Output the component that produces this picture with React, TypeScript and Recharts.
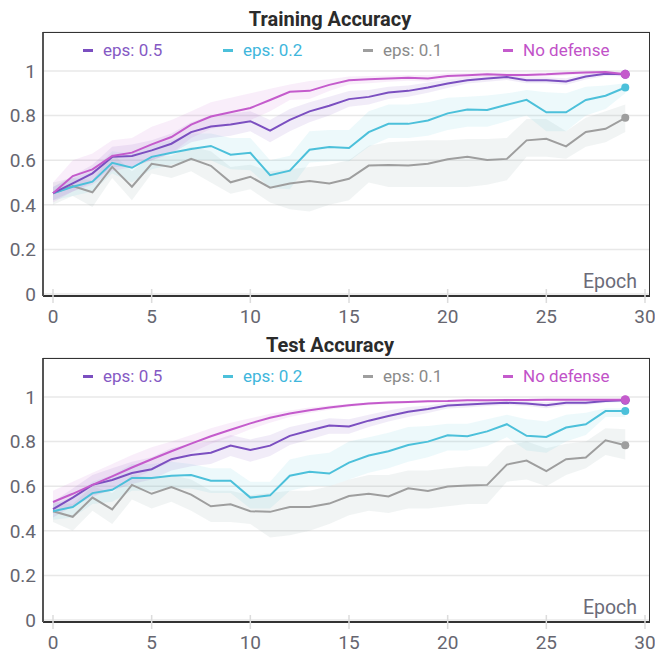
import React from 'react';
import { ComposedChart, Line, Area, XAxis, YAxis, CartesianGrid } from 'recharts';

// ---------- data ----------
const epochs = [0, 1, 2, 3, 4, 5, 6, 7, 8, 9, 10, 11, 12, 13, 14, 15, 16, 17, 18, 19, 20, 21, 22, 23, 24, 25, 26, 27, 28, 29];
const xTicks = [0, 5, 10, 15, 20, 25, 30];
const yTicks = [0, 0.2, 0.4, 0.6, 0.8, 1];

// Training accuracy
const trainE05 = [0.452, 0.496, 0.541, 0.615, 0.619, 0.644, 0.674, 0.726, 0.751, 0.76, 0.775, 0.733, 0.781, 0.819, 0.844, 0.874, 0.884, 0.904, 0.911, 0.926, 0.944, 0.959, 0.966, 0.973, 0.959, 0.959, 0.953, 0.975, 0.988, 0.985];
const trainE05Hi = [0.48, 0.53, 0.58, 0.66, 0.67, 0.69, 0.72, 0.77, 0.8, 0.81, 0.82, 0.78, 0.83, 0.86, 0.885, 0.91, 0.915, 0.93, 0.935, 0.948, 0.962, 0.972, 0.978, 0.984, 0.972, 0.972, 0.968, 0.988, 0.996, 0.994];
const trainE05Lo = [0.42, 0.46, 0.5, 0.57, 0.57, 0.6, 0.63, 0.68, 0.7, 0.71, 0.73, 0.68, 0.73, 0.77, 0.8, 0.84, 0.85, 0.875, 0.885, 0.902, 0.924, 0.944, 0.952, 0.96, 0.945, 0.945, 0.938, 0.962, 0.978, 0.975];

const trainE02 = [0.452, 0.481, 0.504, 0.588, 0.566, 0.615, 0.633, 0.65, 0.664, 0.625, 0.633, 0.533, 0.553, 0.647, 0.659, 0.655, 0.726, 0.763, 0.763, 0.778, 0.81, 0.827, 0.825, 0.849, 0.871, 0.815, 0.815, 0.87, 0.889, 0.926];
const trainE02Hi = [0.48, 0.52, 0.55, 0.64, 0.63, 0.67, 0.69, 0.72, 0.72, 0.7, 0.7, 0.6, 0.62, 0.73, 0.735, 0.735, 0.82, 0.85, 0.85, 0.86, 0.88, 0.885, 0.89, 0.9, 0.915, 0.905, 0.9, 0.93, 0.935, 0.945];
const trainE02Lo = [0.42, 0.44, 0.46, 0.54, 0.5, 0.56, 0.58, 0.6, 0.6, 0.56, 0.555, 0.475, 0.47, 0.59, 0.595, 0.595, 0.66, 0.7, 0.7, 0.71, 0.735, 0.75, 0.75, 0.775, 0.8, 0.73, 0.73, 0.8, 0.83, 0.9];

const trainE01 = [0.452, 0.484, 0.456, 0.57, 0.481, 0.584, 0.57, 0.606, 0.575, 0.501, 0.526, 0.477, 0.496, 0.507, 0.496, 0.517, 0.576, 0.579, 0.576, 0.584, 0.604, 0.615, 0.601, 0.606, 0.689, 0.696, 0.662, 0.727, 0.741, 0.79];
const trainE01Hi = [0.5, 0.52, 0.51, 0.63, 0.55, 0.62, 0.62, 0.66, 0.64, 0.57, 0.58, 0.55, 0.56, 0.57, 0.58, 0.6, 0.665, 0.68, 0.685, 0.69, 0.69, 0.695, 0.695, 0.7, 0.785, 0.785, 0.73, 0.79, 0.82, 0.85];
const trainE01Lo = [0.4, 0.44, 0.39, 0.52, 0.42, 0.54, 0.52, 0.55, 0.5, 0.45, 0.47, 0.41, 0.38, 0.37, 0.4, 0.42, 0.5, 0.48, 0.48, 0.48, 0.48, 0.48, 0.49, 0.51, 0.615, 0.615, 0.607, 0.66, 0.68, 0.726];

const trainND = [0.452, 0.529, 0.559, 0.619, 0.634, 0.671, 0.704, 0.76, 0.796, 0.815, 0.834, 0.87, 0.907, 0.911, 0.938, 0.959, 0.963, 0.967, 0.97, 0.967, 0.978, 0.981, 0.985, 0.982, 0.982, 0.985, 0.99, 0.993, 0.996, 0.985];
const trainNDHi = [0.5, 0.6, 0.63, 0.69, 0.7, 0.75, 0.78, 0.82, 0.86, 0.88, 0.9, 0.92, 0.94, 0.955, 0.963, 0.975, 0.978, 0.98, 0.982, 0.982, 0.99, 0.992, 0.995, 0.993, 0.993, 0.995, 0.998, 1.0, 1.0, 0.995];
const trainNDLo = [0.41, 0.46, 0.49, 0.55, 0.57, 0.6, 0.63, 0.7, 0.74, 0.76, 0.78, 0.82, 0.87, 0.875, 0.91, 0.94, 0.945, 0.952, 0.956, 0.952, 0.965, 0.97, 0.975, 0.972, 0.972, 0.975, 0.98, 0.985, 0.99, 0.975];

// Test accuracy
const testE05 = [0.497, 0.549, 0.606, 0.628, 0.659, 0.676, 0.721, 0.74, 0.75, 0.782, 0.762, 0.782, 0.826, 0.85, 0.872, 0.868, 0.894, 0.915, 0.934, 0.946, 0.962, 0.966, 0.971, 0.974, 0.971, 0.963, 0.974, 0.974, 0.982, 0.985];
const testE05Hi = [0.53, 0.59, 0.65, 0.68, 0.71, 0.73, 0.77, 0.79, 0.8, 0.83, 0.81, 0.83, 0.865, 0.885, 0.905, 0.9, 0.92, 0.94, 0.955, 0.962, 0.975, 0.978, 0.981, 0.983, 0.982, 0.976, 0.984, 0.984, 0.99, 0.992];
const testE05Lo = [0.46, 0.51, 0.56, 0.58, 0.61, 0.63, 0.67, 0.69, 0.7, 0.735, 0.71, 0.735, 0.785, 0.81, 0.835, 0.835, 0.865, 0.89, 0.91, 0.928, 0.948, 0.953, 0.96, 0.964, 0.96, 0.95, 0.963, 0.964, 0.974, 0.978];

const testE02 = [0.488, 0.507, 0.569, 0.584, 0.637, 0.637, 0.647, 0.65, 0.625, 0.625, 0.549, 0.559, 0.647, 0.665, 0.657, 0.706, 0.738, 0.757, 0.785, 0.8, 0.828, 0.824, 0.846, 0.878, 0.826, 0.821, 0.863, 0.878, 0.937, 0.937];
const testE02Hi = [0.52, 0.55, 0.62, 0.65, 0.7, 0.7, 0.71, 0.7, 0.68, 0.68, 0.62, 0.62, 0.72, 0.74, 0.75, 0.8, 0.82, 0.84, 0.865, 0.87, 0.88, 0.88, 0.9, 0.92, 0.9, 0.89, 0.92, 0.93, 0.95, 0.95];
const testE02Lo = [0.45, 0.46, 0.52, 0.53, 0.58, 0.58, 0.59, 0.59, 0.57, 0.57, 0.5, 0.5, 0.58, 0.6, 0.6, 0.63, 0.66, 0.68, 0.71, 0.73, 0.76, 0.76, 0.78, 0.82, 0.76, 0.75, 0.8, 0.83, 0.91, 0.91];

const testE01 = [0.488, 0.463, 0.549, 0.496, 0.606, 0.566, 0.596, 0.562, 0.51, 0.519, 0.488, 0.485, 0.507, 0.507, 0.522, 0.556, 0.566, 0.554, 0.591, 0.579, 0.599, 0.603, 0.606, 0.697, 0.715, 0.668, 0.721, 0.729, 0.806, 0.784];
const testE01Hi = [0.53, 0.52, 0.6, 0.57, 0.65, 0.64, 0.65, 0.63, 0.58, 0.58, 0.56, 0.57, 0.58, 0.58, 0.6, 0.63, 0.65, 0.65, 0.67, 0.67, 0.68, 0.69, 0.69, 0.78, 0.8, 0.77, 0.79, 0.8, 0.86, 0.856];
const testE01Lo = [0.44, 0.4, 0.49, 0.43, 0.54, 0.5, 0.53, 0.49, 0.44, 0.44, 0.43, 0.37, 0.38, 0.4, 0.43, 0.47, 0.49, 0.48, 0.5, 0.5, 0.51, 0.52, 0.52, 0.62, 0.63, 0.6, 0.65, 0.68, 0.74, 0.72];

const testND = [0.529, 0.566, 0.606, 0.644, 0.684, 0.721, 0.757, 0.791, 0.824, 0.853, 0.882, 0.907, 0.926, 0.941, 0.953, 0.963, 0.971, 0.975, 0.978, 0.981, 0.982, 0.985, 0.985, 0.987, 0.987, 0.988, 0.988, 0.988, 0.988, 0.988];
const testNDHi = [0.58, 0.62, 0.66, 0.7, 0.74, 0.775, 0.8, 0.83, 0.86, 0.885, 0.905, 0.925, 0.94, 0.953, 0.962, 0.97, 0.977, 0.98, 0.983, 0.986, 0.987, 0.99, 0.99, 0.992, 0.992, 0.993, 0.993, 0.993, 0.993, 0.993];
const testNDLo = [0.48, 0.51, 0.55, 0.59, 0.63, 0.67, 0.71, 0.75, 0.79, 0.82, 0.855, 0.885, 0.91, 0.928, 0.943, 0.955, 0.964, 0.969, 0.972, 0.976, 0.977, 0.98, 0.98, 0.982, 0.982, 0.983, 0.983, 0.983, 0.983, 0.983];

// ---------- styles ----------
const FONT = 'Roboto, "Liberation Sans", Arial, sans-serif';
const SERIES = [
  { key: 'e05', name: 'eps: 0.5', color: '#7b4fc0', text: '#8559c4', bandColor: '#7b4fc0', band: 0.11 },
  { key: 'e02', name: 'eps: 0.2', color: '#4cc0da', text: '#40b6dc', bandColor: '#4cc0da', band: 0.1 },
  { key: 'e01', name: 'eps: 0.1', color: '#9e9e9e', text: '#8a8a8a', bandColor: '#a9b8b8', band: 0.16 },
  { key: 'nd', name: 'No defense', color: '#c45bcc', text: '#c152c8', bandColor: '#c45bcc', band: 0.1 },
];
const BAND_ORDER = ['e01', 'e02', 'e05', 'nd'];
const LINE_ORDER = ['e01', 'e02', 'e05', 'nd'];

function buildRows(s: any) {
  return epochs.map((e, i) => ({
    epoch: e,
    e05: s.e05[i], e05Band: [s.e05Lo[i], s.e05Hi[i]],
    e02: s.e02[i], e02Band: [s.e02Lo[i], s.e02Hi[i]],
    e01: s.e01[i], e01Band: [s.e01Lo[i], s.e01Hi[i]],
    nd: s.nd[i], ndBand: [s.ndLo[i], s.ndHi[i]],
  }));
}

const trainRows = buildRows({
  e05: trainE05, e05Lo: trainE05Lo, e05Hi: trainE05Hi,
  e02: trainE02, e02Lo: trainE02Lo, e02Hi: trainE02Hi,
  e01: trainE01, e01Lo: trainE01Lo, e01Hi: trainE01Hi,
  nd: trainND, ndLo: trainNDLo, ndHi: trainNDHi,
});
const testRows = buildRows({
  e05: testE05, e05Lo: testE05Lo, e05Hi: testE05Hi,
  e02: testE02, e02Lo: testE02Lo, e02Hi: testE02Hi,
  e01: testE01, e01Lo: testE01Lo, e01Hi: testE01Hi,
  nd: testND, ndLo: testNDLo, ndHi: testNDHi,
});

const XTick = (props: any) => {
  const { x, y, payload } = props;
  return (
    <g>
      <line x1={x} x2={x} y1={y - 7} y2={y + 7} stroke="#dcdcdc" strokeWidth={1.5} />
      <text x={x} y={y + 27} textAnchor="middle" fill="#666670" fontSize={19} fontFamily={FONT}>
        {payload.value}
      </text>
    </g>
  );
};

const EpochLabel = (props: any) => {
  const vb = props.viewBox || { x: 0, y: 0, width: 0 };
  return (
    <text x={vb.x + vb.width - 13} y={vb.y - 8} textAnchor="end" fill="#6b6b78" fontSize={19.5} fontFamily={FONT}>
      Epoch
    </text>
  );
};

const makeEndDot = (color: string, r: number) => (props: any) => {
  const { cx, cy, index } = props;
  if (index !== epochs.length - 1) return <g key={`d${index}`} />;
  return <circle key={`d${index}`} cx={cx} cy={cy} r={r} fill={color} stroke="none" />;
};

function Legend4() {
  return (
    <div style={{ position: 'absolute', left: 83, top: 40, display: 'flex', fontFamily: FONT, fontSize: 17, lineHeight: '21px' }}>
      {SERIES.map((s) => (
        <div key={s.key} style={{ width: 140, display: 'flex', alignItems: 'center' }}>
          <span style={{ display: 'inline-block', width: 10, height: 3, background: s.color, marginRight: 10 }} />
          <span style={{ color: s.text }}>{s.name}</span>
        </div>
      ))}
    </div>
  );
}

const CHART_W = 655;
const CHART_H = 327;
const M_TOP = 32;
const M_RIGHT = 5;
const Y_AXIS_W = 43;
const X_AXIS_H = 31;

function AccuracyChart({ title, rows, top }: { title: string; rows: any[]; top: number }) {
  const byKey: any = {};
  SERIES.forEach((s) => (byKey[s.key] = s));
  const plotW = CHART_W - Y_AXIS_W - M_RIGHT;
  const plotH = CHART_H - M_TOP - X_AXIS_H;
  return (
    <div style={{ position: 'absolute', left: 0, top, width: CHART_W, height: CHART_H }}>
      <ComposedChart width={CHART_W} height={CHART_H} data={rows} margin={{ top: M_TOP, right: M_RIGHT, bottom: 0, left: 0 }}>
        <CartesianGrid horizontal vertical={false} stroke="#e8e8e8" strokeWidth={1.5} />
        <XAxis
          dataKey="epoch"
          type="number"
          domain={[0, 30]}
          ticks={xTicks}
          padding={{ left: 10, right: 5 }}
          height={X_AXIS_H}
          tickLine={false}
          tickSize={0}
          tickMargin={0}
          axisLine={{ stroke: '#333', strokeWidth: 2 }}
          tick={<XTick />}
          interval={0}
          label={<EpochLabel />}
        />
        <YAxis
          type="number"
          domain={[0, 1.175]}
          ticks={yTicks}
          padding={{ top: 0, bottom: 2 }}
          width={Y_AXIS_W}
          tickLine={false}
          tickSize={0}
          tickMargin={7}
          interval={0}
          axisLine={{ stroke: '#555', strokeWidth: 2 }}
          tick={{ fill: '#666670', fontSize: 19, fontFamily: FONT }}
          allowDataOverflow
        />
        {BAND_ORDER.map((k) => (
          <Area
            key={`${k}Band`}
            dataKey={`${k}Band`}
            type="linear"
            stroke="none"
            fill={byKey[k].bandColor}
            fillOpacity={byKey[k].band}
            isAnimationActive={false}
            activeDot={false}
          />
        ))}
        {LINE_ORDER.map((k) => (
          <Line
            key={k}
            dataKey={k}
            type="linear"
            stroke={byKey[k].color}
            strokeWidth={2}
            dot={makeEndDot(byKey[k].color, k === 'nd' || k === 'e05' ? 4.5 : 4)}
            activeDot={false}
            isAnimationActive={false}
          />
        ))}
      </ComposedChart>
      {/* plot frame: top and right edges */}
      <div
        style={{
          position: 'absolute', left: Y_AXIS_W, top: M_TOP - 0.5, width: plotW, height: plotH,
          borderTop: '1.5px solid #333', borderRight: '1.5px solid #333', boxSizing: 'border-box', pointerEvents: 'none',
        }}
      />
      <Legend4 />
      <div
        style={{
          position: 'absolute', left: 0, top: 8, width: 660, textAlign: 'center',
          fontFamily: FONT, fontWeight: 700, fontSize: 20, lineHeight: '23px', color: '#2b2b2b',
        }}
      >
        {title}
      </div>
    </div>
  );
}

export default function App() {
  return (
    <div style={{ position: 'absolute', left: 0, top: 0, width: 655, height: 653, background: '#fff' }}>
      <AccuracyChart title="Training Accuracy" rows={trainRows} top={0} />
      <AccuracyChart title="Test Accuracy" rows={testRows} top={326} />
    </div>
  );
}
